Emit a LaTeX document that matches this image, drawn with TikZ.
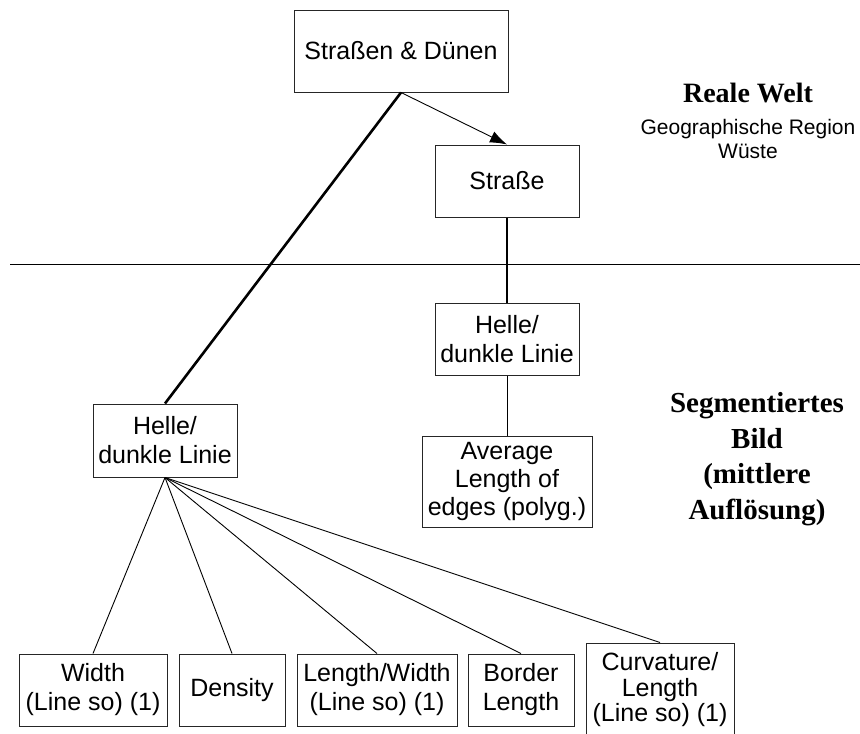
\documentclass[tikz,border=0pt]{standalone}
\usepackage{fontspec}
\setmainfont{Liberation Sans}
\newfontfamily\serifb{Liberation Serif}
\usetikzlibrary{arrows.meta}
\begin{document}
\begin{tikzpicture}[x=1pt,y=-1pt,
  box/.style={draw=black!85, line width=1pt, fill=white, align=center, inner sep=0pt,
    font=\fontsize{25}{29}\selectfont},
  thin/.style={draw=black, line width=0.9pt},
  thick/.style={draw=black, line width=2.6pt},
  lbl/.style={align=center, inner sep=0pt}]
\clip (0,0) rectangle (860,734);
\useasboundingbox (0,0) rectangle (860,734);
% nodes
\node[box, minimum width=214, minimum height=82] (sd) at (401,51) {Straßen \& Dünen};
\node[box, minimum width=144, minimum height=72] (str) at (507,181) {Straße};
\node[box, minimum width=144, minimum height=72] (hr) at (507,339) {Helle/\\dunkle Linie};
\node[box, minimum width=170, minimum height=91, font=\fontsize{25}{28}\selectfont] (avg) at (507,481.5) {Average\\Length of\\edges (polyg.)};
\node[box, minimum width=144, minimum height=73] (hl) at (165,440.5) {Helle/\\dunkle Linie};
\node[box, minimum width=148, minimum height=72] (wd) at (93,690) {Width\\(Line so) (1)};
\node[box, minimum width=106, minimum height=72] (dn) at (232,690) {Density};
\node[box, minimum width=160, minimum height=72] (lw) at (377,690) {Length/Width\\(Line so) (1)};
\node[box, minimum width=106, minimum height=72] (bl) at (521,690) {Border\\Length};
\node[box, minimum width=148, minimum height=94, font=\fontsize{25}{25.5}\selectfont] (cv) at (660,690) {Curvature/\\Length\\(Line so) (1)};
% separator
\coordinate (sepL) at (10,264);
\coordinate (sepR) at (860,264);
\draw[thin] (sepL) -- (sepR);
% connectors
\draw[thick] (sd.south) -- (hl.north);
\draw[thin, -{Latex[length=17pt,width=12pt]}] (sd.south) -- (str.north);
\draw[thick] (str.south) -- (hr.north);
\draw[thin] (hr.south) -- (avg.north);
\draw[thin] (hl.south) -- (wd.north);
\draw[thin] (hl.south) -- (dn.north);
\draw[thin] (hl.south) -- (lw.north);
\draw[thin] (hl.south) -- (bl.north);
\draw[thin] (hl.south) -- (cv.north);
% labels
\node[lbl, font=\serifb\bfseries\fontsize{28}{32}\selectfont] (rw) at (748,93) {Reale Welt};
\node[lbl, font=\fontsize{21}{24}\selectfont] (gr) at (748,139) {Geographische Region\\Wüste};
\node[lbl, font=\serifb\bfseries\fontsize{29}{35.5}\selectfont] (sb) at (757,459) {Segmentiertes\\Bild\\(mittlere\\Auflösung)};
\end{tikzpicture}
\end{document}
